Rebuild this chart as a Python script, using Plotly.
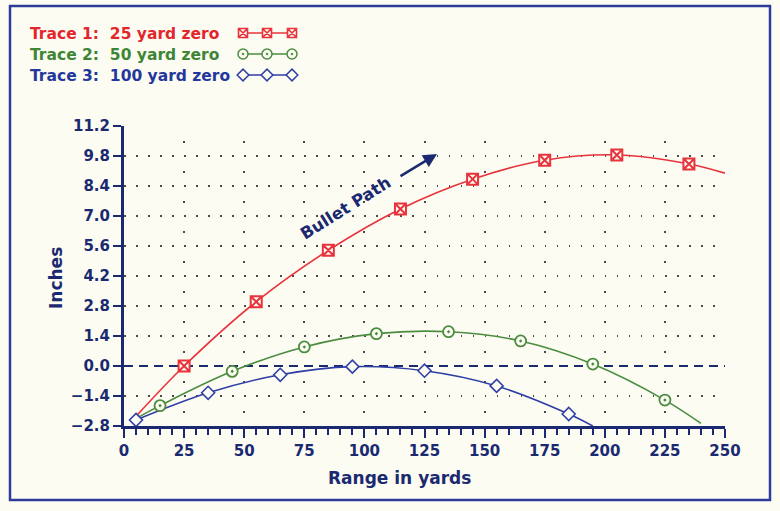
import plotly.graph_objects as go

W, H = 780, 511

# ---------------- data ----------------
red_x = [5, 25, 55, 85, 115, 145, 175, 205, 235, 250]
red_y = [-2.35, 0.0, 3.0, 5.4, 7.33, 8.72, 9.6, 9.85, 9.43, 9.0]
red_mark = slice(1, 9)

green_x = [5, 15, 45, 75, 105, 135, 165, 195, 225, 240]
green_y = [-2.45, -1.85, -0.25, 0.89, 1.51, 1.6, 1.17, 0.09, -1.59, -2.68]
green_mark = slice(1, 9)

blue_x = [5, 35, 65, 95, 125, 155, 185, 195]
blue_y = [-2.52, -1.25, -0.41, -0.03, -0.22, -0.93, -2.24, -2.8]
blue_mark = slice(0, 7)

x_ticks = [0, 25, 50, 75, 100, 125, 150, 175, 200, 225, 250]
y_ticks = [-2.8, -1.4, 0.0, 1.4, 2.8, 4.2, 5.6, 7.0, 8.4, 9.8, 11.2]
y_grid_rows = [-1.4, 1.4, 2.8, 4.2, 5.6, 7.0, 8.4, 9.8, 11.2]

legend_labels = ["Trace 1:&nbsp;&nbsp;25 yard zero",
                 "Trace 2:&nbsp;&nbsp;50 yard zero",
                 "Trace 3:&nbsp;&nbsp;100 yard zero"]

# ---------------- style ----------------
NAVY = "#1b2a70"
FRAME = "#2c3c9a"
CREAM = "#fcfcf3"
RED, GREEN, BLUE = "#e8333c", "#4b8c3f", "#2f3fa6"
RED_T, GREEN_T, BLUE_T = "#e3262c", "#3e8535", "#24389c"
FONT = "DejaVu Sans, Verdana, sans-serif"

# plot area in pixels
PX0, PX1 = 124, 725
PY_TOP, PY_BOT = 126, 426

fig = go.Figure()

series = [
    (red_x, red_y, red_mark, RED, dict(symbol="square-x", size=11, color=CREAM, line=dict(color=RED, width=2))),
    (green_x, green_y, green_mark, GREEN, dict(symbol="circle-dot", size=11, color=CREAM, line=dict(color=GREEN, width=1.8))),
    (blue_x, blue_y, blue_mark, BLUE, dict(symbol="diamond", size=10, color=CREAM, line=dict(color=BLUE, width=1.6))),
]
for xs, ys, msl, col, mk in series:
    fig.add_trace(go.Scatter(x=xs, y=ys, mode="lines", line=dict(color=col, width=1.6, shape="spline"),
                             hoverinfo="skip", showlegend=False))
for xs, ys, msl, col, mk in series:
    fig.add_trace(go.Scatter(x=xs[msl], y=ys[msl], mode="markers", marker=mk, cliponaxis=False,
                             showlegend=False))

# legend keys (pixel-coordinate overlay axes)
key_x = [243, 267, 292]
key_y = [33, 54, 75]
key_markers = [
    dict(symbol="square-x", size=9, color=CREAM, line=dict(color=RED, width=1.6)),
    dict(symbol="circle-dot", size=10, color=CREAM, line=dict(color=GREEN, width=1.5)),
    dict(symbol="diamond", size=9, color=CREAM, line=dict(color=BLUE, width=1.5)),
]
for ky, col, mk in zip(key_y, [RED, GREEN, BLUE], key_markers):
    fig.add_trace(go.Scatter(x=key_x, y=[ky] * 3, mode="lines+markers", xaxis="x2", yaxis="y2",
                             line=dict(color=col, width=1.3), marker=mk, cliponaxis=False,
                             showlegend=False, hoverinfo="skip"))

annotations = []
for lbl, ky, col in zip(legend_labels, key_y, [RED_T, GREEN_T, BLUE_T]):
    annotations.append(dict(text=lbl, xref="paper", yref="paper", x=28 / W, y=1 - (ky + 1) / H,
                            xanchor="left", yanchor="middle", showarrow=False,
                            font=dict(family=FONT, size=15.5, color=col, weight="bold")))
annotations += [
    dict(text="Inches", xref="paper", yref="paper", x=56 / W, y=1 - 278 / H, textangle=-90,
         xanchor="center", yanchor="middle",
         showarrow=False, font=dict(family=FONT, size=17, color=NAVY, weight="bold")),
    dict(text="Range in yards", xref="paper", yref="paper", x=400 / W, y=1 - 478 / H,
         xanchor="center", yanchor="middle",
         showarrow=False, font=dict(family=FONT, size=17, color=NAVY, weight="bold")),
    dict(text="Bullet Path", xref="paper", yref="paper", x=345 / W, y=1 - 208 / H, textangle=-32,
         xanchor="center", yanchor="middle",
         showarrow=False, font=dict(family=FONT, size=16.5, color=NAVY, weight="bold")),
    dict(text="", xref="paper", yref="paper", x=437 / W, y=1 - 154 / H, ax=-38, ay=23,
         showarrow=True, arrowhead=2, arrowsize=1.1, arrowwidth=2.5, arrowcolor=NAVY),
]

shapes = [
    dict(type="rect", xref="paper", yref="paper", x0=10 / W, x1=770 / W, y0=1 - 500 / H, y1=1 - 6 / H,
         line=dict(color=FRAME, width=2.5), fillcolor=CREAM, layer="below"),
    dict(type="line", xref="x", yref="y", x0=0, x1=250, y0=0, y1=0,
         line=dict(color=NAVY, width=1.8, dash="9px,6px"), layer="between"),
]

period_x = (PX1 - PX0) / 50.0

fig.update_layout(
    width=W, height=H, margin=dict(l=0, r=0, t=0, b=0, autoexpand=False),
    paper_bgcolor=CREAM, plot_bgcolor="rgba(0,0,0,0)",
    showlegend=False,
    font=dict(family=FONT, color=NAVY),
    annotations=annotations, shapes=shapes,
    xaxis=dict(domain=[PX0 / W, PX1 / W], range=[0, 250], tickvals=x_ticks, automargin=False,
               showline=True, linecolor=NAVY, linewidth=3, zeroline=False,
               ticks="outside", ticklen=9, tickwidth=2, tickcolor=NAVY,
               minor=dict(dtick=5, tick0=0, ticks="outside", ticklen=6, tickwidth=1.5, tickcolor=NAVY, showgrid=False),
               tickfont=dict(family=FONT, size=15, color=NAVY, weight="bold"),
               showgrid=True, gridcolor="#4a4a4a", gridwidth=1.6,
               griddash="0px,15px,1.6px,13.4px", fixedrange=True),
    yaxis=dict(domain=[1 - PY_BOT / H, 1 - PY_TOP / H], range=[-2.8, 11.2], tickvals=y_ticks,
               tickformat=".1f", showline=True, linecolor=NAVY, linewidth=3, zeroline=False, automargin=False,
               ticks="outside", ticklen=8, tickwidth=2, tickcolor=NAVY,
               tickfont=dict(family=FONT, size=15, color=NAVY, weight="bold"),
               showgrid=False,
               minor=dict(tickmode="array", tickvals=y_grid_rows, ticks="", showgrid=True,
                          gridcolor="#4a4a4a", gridwidth=1.6,
                          griddash="1.6px,%.2fpx" % (period_x - 1.6)),
               fixedrange=True),
    xaxis2=dict(domain=[0, 1], range=[0, W], anchor="y2", visible=False, fixedrange=True),
    yaxis2=dict(domain=[0, 1], range=[H, 0], anchor="x2", visible=False, fixedrange=True),
)

fig.write_html("out.html")
